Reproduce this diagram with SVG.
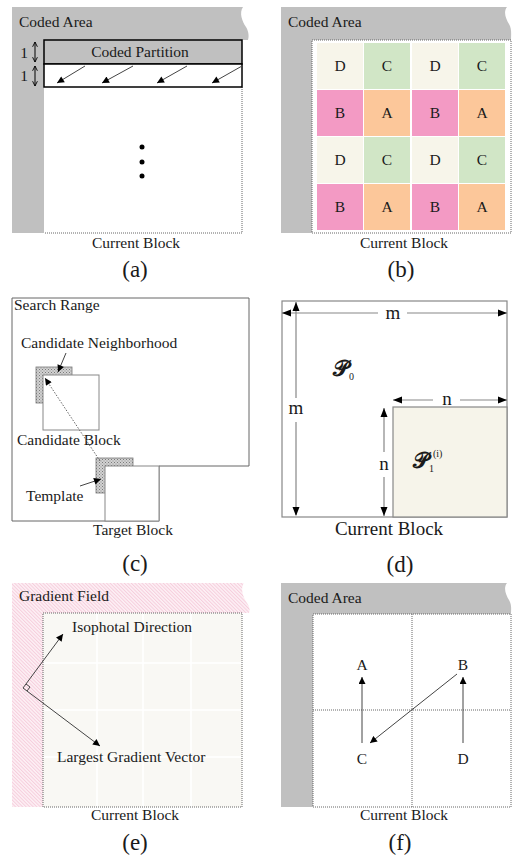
<svg xmlns="http://www.w3.org/2000/svg" width="516" height="859" viewBox="0 0 516 859">
<defs>
<style>
text{font-family:"Liberation Serif","Times New Roman",serif;fill:#1a1a1a;font-size:15.5px}
.m{text-anchor:middle}
.cap{font-size:23px;text-anchor:middle}
.gray{fill:#c0c0c0}
.dotb{fill:none;stroke:#666;stroke-width:1;stroke-dasharray:1 1}
.ln{stroke:#444;stroke-width:1;fill:none}
.lg{stroke:#888;stroke-width:1.2;fill:none}
.big{font-size:19px}
.sp{font-family:"DejaVu Serif","DejaVu Sans",serif;font-size:22px;font-weight:bold}
.sub{font-family:"Liberation Serif",serif;font-weight:normal;font-size:10px}
</style>
<marker id="ah" viewBox="0 0 10 10" refX="10" refY="5" markerWidth="9" markerHeight="7" markerUnits="userSpaceOnUse" orient="auto-start-reverse"><path d="M0,0L10,5L0,10z" fill="#000"/></marker>
<marker id="oh" viewBox="0 0 10 10" refX="9" refY="5" markerWidth="6" markerHeight="6" markerUnits="userSpaceOnUse" orient="auto-start-reverse"><path d="M1,1L9,5L1,9" fill="none" stroke="#000" stroke-width="1.5"/></marker>
<pattern id="hg" width="3" height="3" patternUnits="userSpaceOnUse"><rect width="3" height="3" fill="#d2d2d2"/><rect width="1" height="1" fill="#7a7a7a"/><rect x="1.5" y="1.5" width="1" height="1" fill="#8a8a8a"/></pattern>
<pattern id="hp" width="2.5" height="2.5" patternUnits="userSpaceOnUse" patternTransform="rotate(-45)"><rect width="2.5" height="2.5" fill="#fdf1f5"/><rect width="1" height="2.5" fill="#f6cddc"/></pattern>
</defs>

<!-- Panel (a) -->
<g id="a-coded-area">
<path class="gray" d="M12,7H243C239,13 242,21 246,27C249,32 249,37 248,40H242V233H12Z"/>
<text x="19" y="27">Coded Area</text>
</g>
<g id="a-current-block">
<rect x="44" y="87" width="198" height="146" fill="#fff"/>
<path class="dotb" d="M242,87V233H44"/>
<circle cx="142" cy="147" r="2.5" fill="#000"/>
<circle cx="142" cy="162" r="2.5" fill="#000"/>
<circle cx="142" cy="176" r="2.5" fill="#000"/>
<text class="m" x="136" y="248">Current Block</text>
</g>
<g id="a-coded-partition">
<rect x="44" y="40" width="198" height="24" fill="#c0c0c0" stroke="#000" stroke-width="1.5"/>
<text class="m" x="140" y="57">Coded Partition</text>
</g>
<g id="a-next-row">
<rect x="44" y="64" width="198" height="23" fill="#fff" stroke="#000" stroke-width="1.5"/>
</g>
<g id="a-labels">
<text class="m" x="24" y="58">1</text>
<text class="m" x="24" y="81">1</text>
<text class="cap" x="135" y="277">(a)</text>
</g>

<!-- Panel (b) -->
<g id="b-coded-area">
<path class="gray" d="M281,7H507C503,12 506,19 509,24C512,29 511,35 511,40V233H281Z"/>
<text x="288" y="27">Coded Area</text>
</g>
<g id="b-current-block">
<rect x="312" y="40" width="199" height="193" fill="#fff"/>
<rect x="312" y="40" width="199" height="193" class="dotb"/>
<g id="b-row1">
<rect x="317" y="43" width="46" height="46" fill="#f7f5ea"/><rect x="364" y="43" width="46" height="46" fill="#d1e6c6"/><rect x="412" y="43" width="46" height="46" fill="#f7f5ea"/><rect x="459" y="43" width="46" height="46" fill="#d1e6c6"/>
<text class="m" x="340" y="71">D</text><text class="m" x="387" y="71">C</text><text class="m" x="435" y="71">D</text><text class="m" x="482" y="71">C</text>
</g>
<g id="b-row2">
<rect x="317" y="90" width="46" height="46" fill="#f39ac4"/><rect x="364" y="90" width="46" height="46" fill="#fcc79a"/><rect x="412" y="90" width="46" height="46" fill="#f39ac4"/><rect x="459" y="90" width="46" height="46" fill="#fcc79a"/>
<text class="m" x="340" y="118">B</text><text class="m" x="387" y="118">A</text><text class="m" x="435" y="118">B</text><text class="m" x="482" y="118">A</text>
</g>
<g id="b-row3">
<rect x="317" y="137" width="46" height="46" fill="#f7f5ea"/><rect x="364" y="137" width="46" height="46" fill="#d1e6c6"/><rect x="412" y="137" width="46" height="46" fill="#f7f5ea"/><rect x="459" y="137" width="46" height="46" fill="#d1e6c6"/>
<text class="m" x="340" y="165">D</text><text class="m" x="387" y="165">C</text><text class="m" x="435" y="165">D</text><text class="m" x="482" y="165">C</text>
</g>
<g id="b-row4">
<rect x="317" y="184" width="46" height="46" fill="#f39ac4"/><rect x="364" y="184" width="46" height="46" fill="#fcc79a"/><rect x="412" y="184" width="46" height="46" fill="#f39ac4"/><rect x="459" y="184" width="46" height="46" fill="#fcc79a"/>
<text class="m" x="340" y="212">B</text><text class="m" x="387" y="212">A</text><text class="m" x="435" y="212">B</text><text class="m" x="482" y="212">A</text>
</g>
<text class="m" x="404" y="248">Current Block</text>
<text class="cap" x="401" y="277">(b)</text>
</g>

<!-- Panel (c) -->
<g id="c-search-range">
<path d="M12,298H249V466H159V521H12Z" fill="#fff" stroke="#666" stroke-width="1"/>
<text x="14" y="310">Search Range</text>
</g>
<g id="c-candidate-neighborhood">
<rect x="36" y="367" width="36" height="36" fill="url(#hg)" stroke="#777" stroke-width="0.8"/>
<text x="21" y="348">Candidate Neighborhood</text>
</g>
<g id="c-candidate-block">
<rect x="43" y="375" width="56" height="55" fill="#fff" stroke="#888" stroke-width="1"/>
<text x="17" y="445">Candidate Block</text>
</g>
<g id="c-template">
<rect x="96" y="458" width="37" height="35" fill="url(#hg)" stroke="#777" stroke-width="0.8"/>
<text x="26" y="501">Template</text>
</g>
<g id="c-target-block">
<rect x="105" y="466" width="54" height="55" fill="#fff" stroke="#888" stroke-width="1"/>
<text class="m" x="133" y="535">Target Block</text>
<text class="cap" x="135" y="571">(c)</text>
</g>

<!-- Panel (d) -->
<g id="d-p0">
<rect x="282" y="301" width="225" height="216" fill="#fff" stroke="#888" stroke-width="1.2"/>
<text class="sp" x="333" y="376">𝒫<tspan class="sub" dy="4">0</tspan></text>
</g>
<g id="d-p1">
<rect x="393" y="407" width="114" height="110" fill="#f6f4ea" stroke="#888" stroke-width="1.2"/>
<text class="sp" x="413" y="468">𝒫<tspan class="sub" dy="4">1</tspan><tspan class="sub" dy="-15" dx="-1">(i)</tspan></text>
</g>
<g id="d-labels">
<text class="m big" x="393" y="319">m</text>
<text class="m big" x="296" y="414">m</text>
<text class="m big" x="447" y="405">n</text>
<text class="m big" x="384" y="470">n</text>
<text class="m big" x="389" y="535">Current Block</text>
<text class="cap" x="400" y="572">(d)</text>
</g>

<!-- Panel (e) -->
<g id="e-gradient-field">
<path fill="url(#hp)" d="M12,583H244C240,589 243,597 247,603C250,607 250,611 249,613H242V807H12Z"/>
<text x="19" y="601">Gradient Field</text>
</g>
<g id="e-current-block">
<rect x="43" y="613" width="199" height="194" fill="#f9f8f4"/>
<path d="M97,613V807M143,613V807M191,613V807M43,663H242M43,710H242M43,757H242" stroke="#fff" stroke-width="1.5"/>
<rect x="43" y="613" width="199" height="194" class="dotb"/>
<path d="M26,684L30,687L27,691" fill="none" stroke="#333" stroke-width="0.9"/>
<text x="72" y="632">Isophotal Direction</text>
<text x="57" y="762">Largest Gradient Vector</text>
<text class="m" x="135" y="820">Current Block</text>
<text class="cap" x="135" y="850">(e)</text>
</g>

<!-- Panel (f) -->
<g id="f-coded-area">
<path class="gray" d="M281,583H507C503,588 506,595 509,600C512,605 511,610 511,614V807H281Z"/>
<text x="288" y="603">Coded Area</text>
</g>
<g id="f-current-block">
<rect x="313" y="614" width="198" height="193" fill="#fff"/>
<rect x="313" y="614" width="198" height="193" class="dotb"/>
<path class="dotb" d="M412,614V807M313,710H511"/>
<text class="m" x="404" y="820">Current Block</text>
<text class="cap" x="400" y="850">(f)</text>
</g>
<g id="f-A"><text class="m" x="362" y="670">A</text></g>
<g id="f-B"><text class="m" x="463" y="670">B</text></g>
<g id="f-C"><text class="m" x="362" y="764">C</text></g>
<g id="f-D"><text class="m" x="463" y="764">D</text></g>

<!-- Connectors -->
<g id="connectors">
<line x1="35" y1="42" x2="35" y2="62" stroke="#000" stroke-width="1" marker-start="url(#oh)" marker-end="url(#oh)"/>
<line x1="35" y1="66" x2="35" y2="86" stroke="#000" stroke-width="1" marker-start="url(#oh)" marker-end="url(#oh)"/>
<line class="ln" x1="85" y1="66" x2="57" y2="83" marker-end="url(#ah)"/>
<line class="ln" x1="133" y1="66" x2="102" y2="83" marker-end="url(#ah)"/>
<line class="ln" x1="187" y1="66" x2="157" y2="83" marker-end="url(#ah)"/>
<line class="ln" x1="242" y1="66" x2="212" y2="83" marker-end="url(#ah)"/>

<line class="ln" x1="66" y1="353" x2="58" y2="372" marker-end="url(#ah)"/>
<line x1="100" y1="461" x2="45" y2="378" stroke="#666" stroke-width="1" stroke-dasharray="1.5 1.5" marker-end="url(#ah)"/>
<line class="ln" x1="80" y1="486" x2="101" y2="479" marker-end="url(#ah)"/>

<path class="lg" d="M282,313H378M407,313H507"/>
<path d="M282,313l9,-3.5v7z M507,313l-9,-3.5v7z" fill="#000"/>
<path class="lg" d="M296,302V398M296,422V515"/>
<path d="M296,302l-3.5,9h7z M296,516l-3.5,-9h7z" fill="#000"/>
<path class="lg" d="M393,400H433M460,400H507"/>
<path d="M393,400l9,-3.5v7z M507,400l-9,-3.5v7z" fill="#000"/>
<path class="lg" d="M384,408V452M384,477V516"/>
<path d="M384,408l-3.5,9h7z M384,516l-3.5,-9h7z" fill="#000"/>

<line class="ln" x1="23" y1="688" x2="63" y2="634" marker-end="url(#ah)"/>
<line class="ln" x1="23" y1="688" x2="100" y2="746" marker-end="url(#ah)"/>

<line class="ln" x1="362" y1="743" x2="362" y2="677" marker-end="url(#ah)"/>
<line class="ln" x1="463" y1="743" x2="463" y2="677" marker-end="url(#ah)"/>
<line class="ln" x1="457" y1="674" x2="370" y2="743" marker-end="url(#ah)"/>
</g>
</svg>
